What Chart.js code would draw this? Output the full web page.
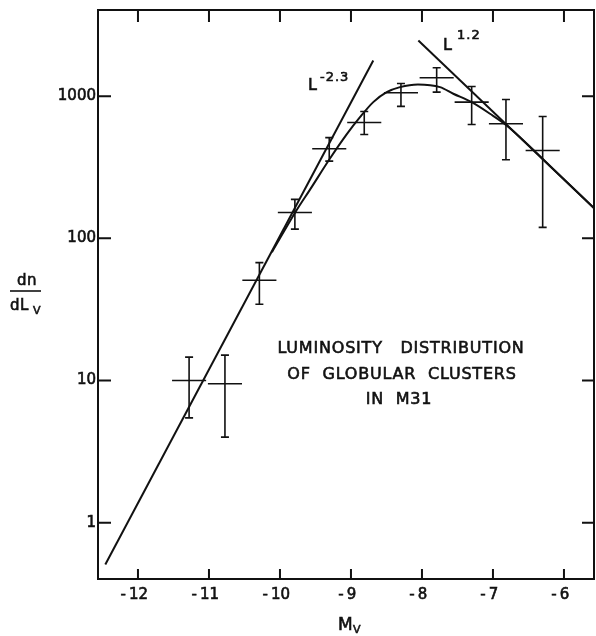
<!DOCTYPE html>
<html>
<head>
<meta charset="utf-8">
<script src="https://cdn.jsdelivr.net/npm/chart.js@4/dist/chart.umd.min.js"></script>
<style>
  html, body { margin: 0; padding: 0; background: #fff; }
  #wrap { width: 596px; height: 636px; position: relative; }
</style>
</head>
<body>
<div id="wrap"><canvas id="c" width="596" height="636"></canvas></div>
<script>
// ---- Data ----
const magnitudes = [-11.28, -10.775, -10.29, -9.79, -9.306, -8.813, -8.296, -7.793, -7.30, -6.817, -6.30];
const counts     = [10.0, 9.5, 50.7, 152, 427, 653, 1057, 1346, 907, 640, 415];
const errHigh    = [14.6, 15.1, 67.5, 188, 511, 780, 1228, 1582, 1170, 948, 720];
const errLow     = [5.46, 4.0, 34.4, 116, 349, 538, 847, 1067, 632, 357, 119.5];
const binHalfWidth = 0.24;

const curveMags = [-10.113, -9.775, -9.577, -9.296, -9.061, -8.873, -8.686, -8.497, -8.310, -8.056, -7.746, -7.559, -7.30, -7.042, -6.807, -6.197, -5.5];
const curveVals = [80, 155, 220, 364, 538, 711, 908, 1067, 1157, 1208, 1157, 1040, 907, 752, 622, 323, 150];

const steepMags = [-12.46, -8.686];
const steepVals = [0.509, 1782];
const shallowMags = [-8.051, -5.5];
const shallowVals = [2460, 150];

const xTickValues = [-12, -11, -10, -9, -8, -7, -6];
const yTickValues = [1, 10, 100, 1000];

const xMin = -12.563, xMax = -5.577;
const yMin = 0.402, yMax = 4035;

// ---- helpers ----
const toXY = (xs, ys) => xs.map((x, i) => ({ x: x, y: ys[i] }));
const INK = '#111';
const FONT = '"DejaVu Sans", "Liberation Sans", sans-serif';

function txt(ctx, s, x, y, size, ls) {
  ctx.font = size + 'px ' + FONT;
  ctx.letterSpacing = (ls || 0) + 'px';
  ctx.lineWidth = 0.6;
  ctx.strokeText(s, x, y);
  ctx.fillText(s, x, y);
}

const errorBarPlugin = {
  id: 'errorBars',
  afterDatasetsDraw(chart) {
    const { ctx, scales: { x, y } } = chart;
    ctx.save();
    ctx.strokeStyle = INK;
    ctx.lineWidth = 1.6;
    const cap = 4;
    magnitudes.forEach((m, i) => {
      const px = x.getPixelForValue(m);
      const py = y.getPixelForValue(counts[i]);
      const pl = x.getPixelForValue(m - binHalfWidth);
      const pr = x.getPixelForValue(m + binHalfWidth);
      const pt = y.getPixelForValue(errHigh[i]);
      const pb = y.getPixelForValue(errLow[i]);
      ctx.beginPath();
      ctx.moveTo(pl, py); ctx.lineTo(pr, py);
      ctx.moveTo(px, pt); ctx.lineTo(px, pb);
      ctx.moveTo(px - cap, pt); ctx.lineTo(px + cap, pt);
      ctx.moveTo(px - cap, pb); ctx.lineTo(px + cap, pb);
      ctx.stroke();
    });
    ctx.restore();
  }
};

const framePlugin = {
  id: 'frame',
  afterDraw(chart) {
    const { ctx, chartArea: a, scales: { x, y } } = chart;
    ctx.save();
    ctx.strokeStyle = INK;
    ctx.lineWidth = 2;
    ctx.strokeRect(a.left, a.top, a.right - a.left, a.bottom - a.top);
    ctx.beginPath();
    xTickValues.forEach(v => {
      const px = x.getPixelForValue(v);
      ctx.moveTo(px, a.bottom); ctx.lineTo(px, a.bottom - 10);
      ctx.moveTo(px, a.top); ctx.lineTo(px, a.top + 12);
    });
    yTickValues.forEach(v => {
      const py = y.getPixelForValue(v);
      ctx.moveTo(a.left, py); ctx.lineTo(a.left + 13, py);
      ctx.moveTo(a.right, py); ctx.lineTo(a.right - 12, py);
    });
    ctx.stroke();

    // texts
    ctx.fillStyle = INK;
    ctx.strokeStyle = INK;
    ctx.textAlign = 'center';
    ctx.textBaseline = 'middle';
    txt(ctx, 'LUMINOSITY   DISTRIBUTION', 401, 349, 16, 0.8);
    txt(ctx, 'OF  GLOBULAR  CLUSTERS', 402, 375, 16, 0.8);
    txt(ctx, 'IN  M31', 399, 400, 16, 0.8);

    // power-law labels
    ctx.textAlign = 'left';
    txt(ctx, 'L', 308, 86, 16, 0);
    txt(ctx, '-2.3', 320, 78, 13, 1);
    txt(ctx, 'L', 443, 46, 16, 0);
    txt(ctx, '1.2', 457, 36, 13, 1);

    // x axis title
    txt(ctx, 'M', 338, 626, 17, 0);
    txt(ctx, 'V', 353, 630, 11, 0);

    // y axis title
    ctx.textAlign = 'center';
    txt(ctx, 'dn', 27, 281, 15, 0.5);
    ctx.beginPath();
    ctx.lineWidth = 1.6;
    ctx.moveTo(10, 291); ctx.lineTo(41, 291);
    ctx.stroke();
    ctx.textAlign = 'left';
    txt(ctx, 'dL', 10, 306, 15, 0.5);
    txt(ctx, 'V', 33, 311, 11, 0);
    ctx.restore();
  }
};

const lineStyle = {
  showLine: true, pointRadius: 0, borderColor: INK, borderWidth: 2, fill: false
};

new Chart(document.getElementById('c'), {
  type: 'scatter',
  data: {
    datasets: [
      Object.assign({ label: 'L^-2.3', data: toXY(steepMags, steepVals) }, lineStyle),
      Object.assign({ label: 'L^1.2', data: toXY(shallowMags, shallowVals) }, lineStyle),
      Object.assign({ label: 'fit', data: toXY(curveMags, curveVals), cubicInterpolationMode: 'monotone' }, lineStyle),
      { label: 'clusters', data: toXY(magnitudes, counts), pointRadius: 0, showLine: false }
    ]
  },
  options: {
    responsive: false,
    animation: false,
    events: [],
    layout: { padding: { top: 10, right: 2, left: 0, bottom: 0 } },
    plugins: { legend: { display: false }, tooltip: { enabled: false }, title: { display: false } },
    scales: {
      x: {
        type: 'linear', min: xMin, max: xMax,
        grid: { display: false, drawTicks: false },
        border: { display: false },
        afterBuildTicks: s => { s.ticks = xTickValues.map(v => ({ value: v })); },
        afterFit: s => { s.height = 57; s.paddingLeft = 0; s.paddingRight = 0; },
        ticks: {
          color: INK, padding: 7, maxRotation: 0, autoSkip: false,
          textStrokeColor: INK, textStrokeWidth: 0.6,
          font: { family: FONT, size: 15 },
          callback: v => '-\u2009' + Math.abs(v) + '\u2002'
        }
      },
      y: {
        type: 'logarithmic', min: yMin, max: yMax,
        grid: { display: false, drawTicks: false },
        border: { display: false },
        afterBuildTicks: s => { s.ticks = yTickValues.map(v => ({ value: v })); },
        afterFit: s => { s.width = 98; s.paddingTop = 0; s.paddingBottom = 0; },
        ticks: {
          color: INK, padding: 2, autoSkip: false,
          textStrokeColor: INK, textStrokeWidth: 0.6,
          font: { family: FONT, size: 15 },
          callback: v => String(v)
        }
      }
    }
  },
  plugins: [errorBarPlugin, framePlugin]
});
</script>
</body>
</html>
